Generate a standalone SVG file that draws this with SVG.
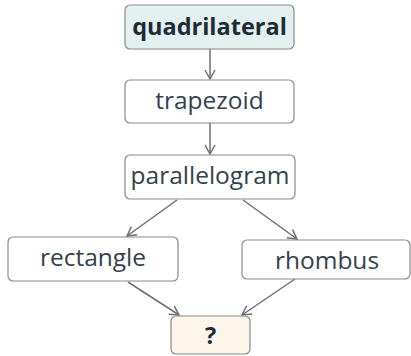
<svg xmlns="http://www.w3.org/2000/svg" width="411" height="356" viewBox="0 0 411 356">
<defs>
<marker id="arr" viewBox="0 0 12 12" refX="10" refY="6" markerWidth="12" markerHeight="12" markerUnits="userSpaceOnUse" orient="auto">
<path d="M1,1 L10,6 L1,11" fill="none" stroke="#6f6f6f" stroke-width="1.5"/>
</marker>
<style>
.box{fill:#ffffff;stroke:#8a8a8a;stroke-width:1.2}
.t{font-family:"Open Sans","Noto Sans",sans-serif;font-size:24.5px;fill:#34414c;text-anchor:middle}
.b{font-weight:bold;font-size:23.5px;fill:#1f2b36}
.c{fill:none;stroke:#6f6f6f;stroke-width:1.5;marker-end:url(#arr)}
</style>
</defs>
<rect width="411" height="356" fill="#ffffff"/>
<g id="connectors">
<line class="c" x1="210" y1="49" x2="210" y2="79"/>
<line class="c" x1="210" y1="123" x2="210" y2="154"/>
<line class="c" x1="177" y1="200" x2="127" y2="236"/>
<line class="c" x1="243" y1="200" x2="297" y2="239"/>
<line class="c" x1="128" y1="282" x2="179" y2="315"/>
<line class="c" x1="295" y1="279" x2="242" y2="315"/>
</g>
<g id="quadrilateral">
<rect class="box" x="125" y="5" width="169" height="44" rx="5" style="fill:#e2f0ef"/>
<text class="t b" x="209.5" y="35">quadrilateral</text>
</g>
<g id="trapezoid">
<rect class="box" x="125" y="80" width="169" height="43" rx="5"/>
<text class="t" x="209.5" y="109">trapezoid</text>
</g>
<g id="parallelogram">
<rect class="box" x="125" y="155" width="170" height="44" rx="5"/>
<text class="t" x="210" y="184">parallelogram</text>
</g>
<g id="rectangle">
<rect class="box" x="8" y="237" width="170" height="44" rx="5"/>
<text class="t" x="93" y="266">rectangle</text>
</g>
<g id="rhombus">
<rect class="box" x="242" y="240" width="168" height="39" rx="5"/>
<text class="t" x="327" y="269">rhombus</text>
</g>
<g id="unknown">
<rect class="box" x="171" y="316" width="79" height="38" rx="5" style="fill:#fdf5ea"/>
<text class="t b" x="210.5" y="344">?</text>
</g>
</svg>
